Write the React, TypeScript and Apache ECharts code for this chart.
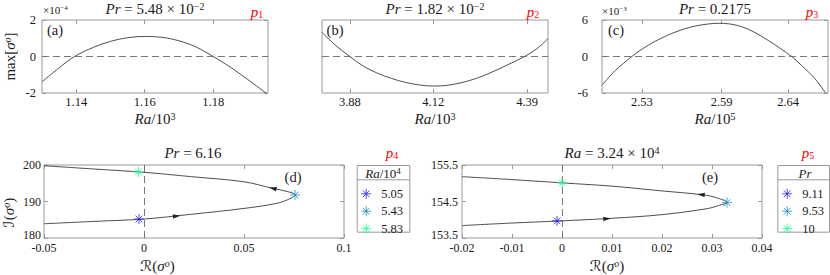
import React, { useEffect, useRef } from 'react';
import * as echarts from 'echarts';

// ---------- data ----------
// (a) Pr = 5.48e-2 : Ra/10^3 vs max[sigma] (x1e-4)
const raA = [1.13, 1.135, 1.1395, 1.145, 1.15, 1.155, 1.16, 1.165, 1.17, 1.175, 1.18, 1.185, 1.19, 1.1957];
const sigA = [-1.39, -0.62, 0, 0.5, 0.83, 1.03, 1.1, 1.05, 0.86, 0.52, 0, -0.58, -1.25, -2.04];
const ticksA = [1.14, 1.16, 1.18];

// (b) Pr = 1.82e-2 : Ra/10^3 (normalised ordinate, no labels)
const raB = [3.8, 3.84, 3.88, 3.92, 3.96, 4.0, 4.04, 4.08, 4.12, 4.16, 4.2, 4.25, 4.3, 4.34, 4.383, 4.42, 4.45];
const sigB = [0.66, 0.3, 0, -0.27, -0.46, -0.6, -0.71, -0.78, -0.81, -0.79, -0.72, -0.58, -0.38, -0.2, 0, 0.23, 0.49];
const ticksB = [3.88, 4.12, 4.39];

// (c) Pr = 0.2175 : Ra/10^5 vs max[sigma] (x1e-3)
const raC = [2.5, 2.51, 2.5225, 2.53, 2.54, 2.55, 2.56, 2.57, 2.58, 2.5875, 2.595, 2.605, 2.615, 2.625, 2.635, 2.6427, 2.65, 2.66, 2.668];
const sigC = [-4.72, -2.3, 0, 1.2, 2.5, 3.55, 4.4, 5.0, 5.35, 5.45, 5.38, 4.9, 3.95, 2.65, 1.2, 0, -1.45, -3.6, -5.95];
const ticksC = [2.53, 2.59, 2.64];

// (d) Pr = 6.16 : R(sigma) vs I(sigma)
const reD = [-0.05, -0.025, 0, 0.0237, 0.05, 0.0655, 0.0719, 0.0755, 0.0719, 0.0644, 0.05, 0.0237, 0, -0.025, -0.05];
const imD = [183.9, 184.55, 185.2, 186.5, 188.1, 189.4, 190.5, 191.8, 192.7, 193.6, 195.4, 196.8, 198.0, 198.9, 199.8];
const starNamesD = ['5.05', '5.43', '5.83'];
const starReD = [-0.0025, 0.0755, -0.0028];
const starImD = [185.2, 191.8, 198.1];
const arrowReD = [0.0163, 0.0644];
const arrowImD = [186.0, 193.6];
const arrowRotD = [-84, 77];
const ticksDx = [-0.05, 0, 0.05, 0.1];
const ticksDy = [180, 190, 200];

// (e) Ra = 3.24e4 : R(sigma) vs I(sigma)
const reE = [-0.02, -0.01, 0, 0.01, 0.02, 0.0293, 0.0313, 0.033, 0.0305, 0.0278, 0.02, 0.01, 0, -0.01, -0.02];
const imE = [153.84, 153.91, 153.97, 154.04, 154.14, 154.31, 154.39, 154.47, 154.62, 154.69, 154.79, 154.92, 155.01, 155.1, 155.18];
const starNamesE = ['9.11', '9.53', '10'];
const starReE = [-0.001, 0.033, 0];
const starImE = [153.97, 154.47, 155.01];
const arrowReE = [0.009, 0.0278];
const arrowImE = [154.03, 154.69];
const arrowRotE = [-86, 85];
const ticksEx = [-0.02, -0.01, 0, 0.01, 0.02, 0.03, 0.04];
const ticksEy = [153.5, 154.5, 155.5];

const starColors = ['#1f1fff', '#1a8cc8', '#22f59a'];

// ---------- styles ----------
const FONT = "'Liberation Serif', 'Times New Roman', serif";
const AX = '#9a9a9a';
const TXT = '#1a1a1a';
const RED = '#ff0000';
const CURVE = '#3a3a3a';
const STAR = 'path://M5 0 L5 10 M0 5 L10 5 M1.6 1.6 L8.4 8.4 M1.6 8.4 L8.4 1.6';

const richBase = (size: number, col: string = TXT) => ({
  i: { fontStyle: 'italic', fontSize: size, fontFamily: FONT, color: col, fill: col },
  n: { fontSize: size, fontFamily: FONT, color: col, fill: col },
  c: { fontSize: size, fontFamily: "'DejaVu Serif', 'DejaVu Sans', serif", color: col, fill: col },
  sup: { fontSize: Math.round(size * 0.68), fontFamily: FONT, verticalAlign: 'top', color: col, fill: col },
  supi: { fontSize: Math.round(size * 0.68), fontFamily: FONT, fontStyle: 'italic', verticalAlign: 'top', color: col, fill: col },
  lo: { fontSize: size, fontFamily: FONT, color: col, fill: col, padding: [0, 0, 7, 0] },
});

const grids = [
  { left: 42, top: 20, width: 226, height: 73 },
  { left: 322, top: 20, width: 226, height: 73 },
  { left: 602, top: 20, width: 226, height: 73 },
  { left: 43, top: 165, width: 301, height: 73 },
  { left: 462, top: 165, width: 300, height: 73 },
].map((g) => ({ ...g, show: true, borderColor: AX, borderWidth: 1, backgroundColor: '#fff', containLabel: false }));

function tickCfg(ticks: number[] | null) {
  if (!ticks) return { show: false };
  return { show: true, inside: true, length: 4, customValues: ticks, lineStyle: { color: AX, width: 1 } };
}

const noLine = { show: false, onZero: false };

function xAxes(grid: number, min: number, max: number, ticks: number[], opts: any) {
  const base = { type: 'value', gridIndex: grid, min, max, splitLine: { show: false }, axisLine: noLine };
  return [
    {
      ...base,
      position: 'bottom',
      axisTick: tickCfg(ticks),
      axisLabel: { show: true, customValues: ticks, margin: opts.margin, fontSize: opts.fs, fontFamily: FONT, color: TXT },
      name: opts.name,
      nameLocation: 'middle',
      nameGap: opts.nameGap,
      nameTextStyle: { fontSize: 15, fontFamily: FONT, color: TXT, rich: richBase(15), padding: opts.namePad || 0 },
    },
    { ...base, position: 'top', axisTick: tickCfg(ticks), axisLabel: { show: false } },
  ];
}

function yAxes(grid: number, min: number, max: number, ticks: number[] | null, opts: any) {
  const base = { type: 'value', gridIndex: grid, min, max, splitLine: { show: false }, axisLine: noLine };
  return [
    {
      ...base,
      position: 'left',
      axisTick: tickCfg(ticks),
      axisLabel: ticks && opts.labels
        ? {
            show: true,
            customValues: ticks,
            margin: opts.margin,
            fontSize: opts.fs,
            fontFamily: FONT,
            color: TXT,
            rich: richBase(opts.fs),
            formatter: (v: number) => (opts.liftMin && v === min ? `{lo|${v}}` : `${v}`),
          }
        : { show: false },
      name: opts.name || '',
      nameLocation: 'middle',
      nameGap: opts.nameGap || 0,
      nameTextStyle: { fontSize: 15, fontFamily: FONT, color: TXT, rich: richBase(15), padding: opts.namePad || 0 },
    },
    { ...base, position: 'right', axisTick: tickCfg(ticks), axisLabel: { show: false } },
  ];
}

const zeroLine = (axis: 'xAxis' | 'yAxis') => ({
  silent: true,
  symbol: ['none', 'none'],
  label: { show: false },
  lineStyle: { type: [7, 4], color: '#6a6a6a', width: 0.9 },
  data: [{ [axis]: 0 }],
});

function curve(axisIdx: number, xs: number[], ys: number[], zeroAxis: 'xAxis' | 'yAxis') {
  return {
    type: 'line',
    xAxisIndex: axisIdx,
    yAxisIndex: axisIdx,
    data: xs.map((x, i) => [x, ys[i]]),
    showSymbol: false,
    smooth: 0.35,
    silent: true,
    lineStyle: { color: CURVE, width: 0.9 },
    markLine: zeroLine(zeroAxis),
    z: 3,
  };
}

function stars(axisIdx: number, names: string[], xs: number[], ys: number[]) {
  return names.map((name, i) => ({
    type: 'scatter',
    name,
    xAxisIndex: axisIdx,
    yAxisIndex: axisIdx,
    data: [[xs[i], ys[i]]],
    symbol: STAR,
    symbolSize: 10,
    symbolKeepAspect: true,
    itemStyle: { color: starColors[i], borderColor: starColors[i], borderWidth: 1 },
    silent: true,
    z: 5,
  }));
}

function arrows(axisIdx: number, xs: number[], ys: number[], rots: number[]) {
  return {
    type: 'scatter',
    xAxisIndex: axisIdx,
    yAxisIndex: axisIdx,
    data: xs.map((x, i) => ({ value: [x, ys[i]], symbolRotate: rots[i] })),
    symbol: 'triangle',
    symbolSize: [4.5, 7.5],
    itemStyle: { color: '#000' },
    silent: true,
    z: 4,
  };
}

function legendCfg(names: string[], left: number, top: number) {
  return {
    data: names,
    orient: 'vertical',
    left,
    top,
    padding: 0,
    itemWidth: 20,
    itemHeight: 10,
    itemGap: 4.4,
    symbolKeepAspect: true,
    selectedMode: false,
    itemStyle: { borderWidth: 1 },
    textStyle: { fontSize: 12.5, fontFamily: FONT, color: TXT },
    z: 10,
  };
}

function txt(x: number, y: number, text: string, size: number, extra: any = {}, col: string = TXT) {
  return {
    type: 'text',
    x,
    y,
    z: 20,
    silent: true,
    style: {
      text,
      fontSize: size,
      fontFamily: FONT,
      fill: col,
      align: 'center',
      verticalAlign: 'middle',
      rich: richBase(size, col),
      ...extra,
    },
  };
}

function pLabel(x: number, y: number, k: string) {
  return {
    type: 'text',
    x,
    y,
    z: 20,
    silent: true,
    style: {
      text: `{p|p}{s|${k}}`,
      fill: RED,
      align: 'center',
      verticalAlign: 'middle',
      rich: {
        p: { fontStyle: 'italic', fontSize: 15, fontFamily: FONT, fill: RED, color: RED },
        s: { fontSize: 10, fontFamily: FONT, fill: RED, color: RED, verticalAlign: 'bottom' },
      },
    },
  };
}

function legendBox(x0: number, x1: number, y0: number, ySep: number, y1: number) {
  return [
    {
      type: 'rect',
      z: 1,
      silent: true,
      shape: { x: x0 + 0.5, y: y0 + 0.5, width: x1 - x0, height: y1 - y0 },
      style: { fill: '#fff', stroke: AX, lineWidth: 1 },
    },
    {
      type: 'line',
      z: 2,
      silent: true,
      shape: { x1: x0 + 0.5, y1: ySep + 0.5, x2: x1 + 0.5, y2: ySep + 0.5 },
      style: { stroke: AX, lineWidth: 1 },
    },
  ];
}

function buildOption() {
  const sigma = '{i|σ}{supi|o}';
  return {
    animation: false,
    backgroundColor: '#fff',
    textStyle: { fontFamily: FONT },
    grid: grids,
    xAxis: [
      ...xAxes(0, 1.13, 1.196, ticksA, { fs: 12.5, margin: 2, name: '{i|Ra}/10{sup|3}', nameGap: 18 }),
      ...xAxes(1, 3.8, 4.45, ticksB, { fs: 12.5, margin: 2, name: '{i|Ra}/10{sup|3}', nameGap: 18 }),
      ...xAxes(2, 2.5, 2.67, ticksC, { fs: 12.5, margin: 2, name: '{i|Ra}/10{sup|5}', nameGap: 18 }),
      ...xAxes(3, -0.05, 0.1, ticksDx, { fs: 12, margin: 4, name: `{c|ℛ}(${sigma})`, nameGap: 20, namePad: [0, 73, 0, 0] }),
      ...xAxes(4, -0.02, 0.04, ticksEx, { fs: 12, margin: 4, name: `{c|ℛ}(${sigma})`, nameGap: 20, namePad: [0, 10, 0, 0] }),
    ],
    yAxis: [
      ...yAxes(0, -2, 2, [-2, 0, 2], { fs: 12.5, labels: true, margin: 6, name: `max[${sigma}]`, nameGap: 25 }),
      ...yAxes(1, -1, 1, null, { labels: false }),
      ...yAxes(2, -6, 6, [-6, 0, 6], { fs: 12.5, labels: true, margin: 14 }),
      ...yAxes(3, 180, 200, ticksDy, { fs: 12, labels: true, margin: 3, liftMin: true, name: `{c|ℐ}(${sigma})`, nameGap: 28, namePad: [0, 22, 0, 0] }),
      ...yAxes(4, 153.5, 155.5, ticksEy, { fs: 12, labels: true, margin: 4, liftMin: true }),
    ],
    legend: [legendCfg(starNamesD, 360.7, 187.3), legendCfg(starNamesE, 781.7, 187.3)],
    series: [
      curve(0, raA, sigA, 'yAxis'),
      curve(2, raB, sigB, 'yAxis'),
      curve(4, raC, sigC, 'yAxis'),
      curve(6, reD, imD, 'xAxis'),
      ...stars(6, starNamesD, starReD, starImD),
      arrows(6, arrowReD, arrowImD, arrowRotD),
      curve(8, reE, imE, 'xAxis'),
      ...stars(8, starNamesE, starReE, starImE),
      arrows(8, arrowReE, arrowImE, arrowRotE),
    ],
    graphic: [
      // titles
      txt(155, 9, '{i|Pr} = 5.48 × 10{sup|−2}', 15),
      txt(435, 9, '{i|Pr} = 1.82 × 10{sup|−2}', 15),
      txt(715, 9, '{i|Pr} = 0.2175', 15),
      txt(193, 153, '{i|Pr} = 6.16', 15),
      txt(612, 153, '{i|Ra} = 3.24 × 10{sup|4}', 15),
      // red p labels
      pLabel(257, 12, '1'),
      pLabel(533, 12, '2'),
      pLabel(812, 12, '3'),
      pLabel(392, 153, '4'),
      pLabel(808, 153, '5'),
      // panel letters
      txt(55, 30, '(a)', 14.5),
      txt(335, 30, '(b)', 14.5),
      txt(616, 30, '(c)', 14.5),
      txt(293, 177, '(d)', 14.5),
      txt(710, 177, '(e)', 14.5),
      // exponent labels
      txt(43, 10, '×10{sup|−4}', 11, { align: 'left' }),
      txt(602, 11, '×10{sup|−3}', 11, { align: 'left' }),
      // legend boxes
      ...legendBox(356.7, 409.3, 165, 179.3, 231.7),
      txt(383, 173, '{i|Ra}/10{sup|4}', 13),
      ...legendBox(777.3, 829, 165, 179.3, 231.7),
      txt(805, 173, '{i|Pr}', 13),
    ],
  };
}

export default function App() {
  const ref = useRef<HTMLDivElement>(null);
  useEffect(() => {
    const chart = echarts.init(ref.current!, null, { renderer: 'svg' });
    chart.setOption(buildOption() as any);
    return () => chart.dispose();
  }, []);
  return (
    <div
      ref={ref}
      style={{ position: 'fixed', left: 0, top: 0, width: 830, height: 275, background: '#fff' }}
    />
  );
}
